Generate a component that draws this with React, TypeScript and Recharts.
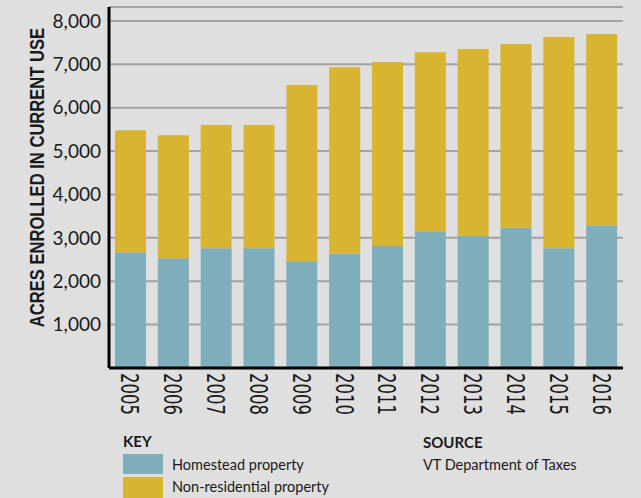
import { BarChart, Bar, XAxis, YAxis, CartesianGrid } from 'recharts';

const YEARS = ['2005', '2006', '2007', '2008', '2009', '2010', '2011', '2012', '2013', '2014', '2015', '2016'];
const HOMESTEAD = [2670, 2530, 2760, 2760, 2460, 2640, 2810, 3150, 3040, 3230, 2760, 3290];
const TOTAL = [5480, 5365, 5600, 5600, 6520, 6930, 7050, 7280, 7350, 7470, 7630, 7700];
const Y_TICKS = [1000, 2000, 3000, 4000, 5000, 6000, 7000, 8000];

const BLUE = '#7eadbc';
const GOLD = '#d9b431';
const BG = '#dfdfdf';
const INK = '#1a1a1a';

const data = YEARS.map((year, i) => ({
  year,
  homestead: HOMESTEAD[i],
  nonres: TOTAL[i] - HOMESTEAD[i],
}));

const YearTick = (props: any) => {
  const { x, y, payload } = props;
  return (
    <g transform={`translate(${x},${y})`}>
      <text
        transform="rotate(90)"
        x={0}
        y={0}
        dy="0.36em"
        textAnchor="start"
        textLength={42}
        lengthAdjust="spacingAndGlyphs"
        fill={INK}
        style={{ fontFamily: '"DejaVu Sans", sans-serif', fontSize: 25 }}
      >
        {payload.value}
      </text>
    </g>
  );
};

// y axis title, squeezed horizontally to match the narrow lettering
const YTitle = (props: any) => {
  const { viewBox } = props;
  const cx = 36;
  const cy = viewBox.y + viewBox.height / 2 - 10;
  return (
    <text
      transform={`translate(${cx},${cy}) rotate(-90) scale(0.79,1)`}
      x={0}
      y={0}
      dy="0.36em"
      textAnchor="middle"
      fill={INK}
      style={{ fontFamily: '"Liberation Sans", sans-serif', fontSize: 21, fontWeight: 700 }}
    >
      ACRES ENROLLED IN CURRENT USE
    </text>
  );
};

const legendText = { fontFamily: 'Lato, "Noto Sans", sans-serif', fontSize: 14.5, color: INK, position: 'absolute' as const, whiteSpace: 'nowrap' as const };

export default function App() {
  return (
    <div style={{ position: 'absolute', top: 0, left: 0, width: 641, height: 498, background: BG, overflow: 'hidden' }}>
      <BarChart width={641} height={498} data={data} margin={{ top: 7, right: 18, bottom: 0, left: 0 }}>
        <CartesianGrid vertical={false} stroke="#a2a2a2" strokeWidth={2} />
        <XAxis
          dataKey="year"
          height={130}
          tick={<YearTick />}
          tickLine={false}
          tickSize={0}
          tickMargin={5}
          axisLine={{ stroke: '#000', strokeWidth: 3 }}
        />
        <YAxis
          width={109}
          domain={[0, 8320]}
          ticks={Y_TICKS}
          tickFormatter={(v: number) => v.toLocaleString('en-US')}
          tick={{ fill: INK, fontSize: 19, fontFamily: 'Lato, "Noto Sans", sans-serif' }}
          tickLine={false}
          axisLine={{ stroke: '#000', strokeWidth: 3 }}
          label={<YTitle />}
        />
        <Bar dataKey="homestead" stackId="a" fill={BLUE} barSize={31} isAnimationActive={false} />
        <Bar dataKey="nonres" stackId="a" fill={GOLD} barSize={31} isAnimationActive={false} />
      </BarChart>

      <div style={{ ...legendText, left: 123, top: 432, fontWeight: 700, fontSize: 15 }}>KEY</div>
      <div style={{ position: 'absolute', left: 123, top: 454, width: 40, height: 20, background: BLUE }} />
      <div style={{ position: 'absolute', left: 123, top: 477, width: 40, height: 21, background: GOLD }} />
      <div style={{ ...legendText, left: 172, top: 456 }}>Homestead property</div>
      <div style={{ ...legendText, left: 172, top: 478 }}>Non-residential property</div>

      <div style={{ ...legendText, left: 423, top: 433, fontWeight: 700, fontSize: 15 }}>SOURCE</div>
      <div style={{ ...legendText, left: 423, top: 456 }}>VT Department of Taxes</div>
    </div>
  );
}
